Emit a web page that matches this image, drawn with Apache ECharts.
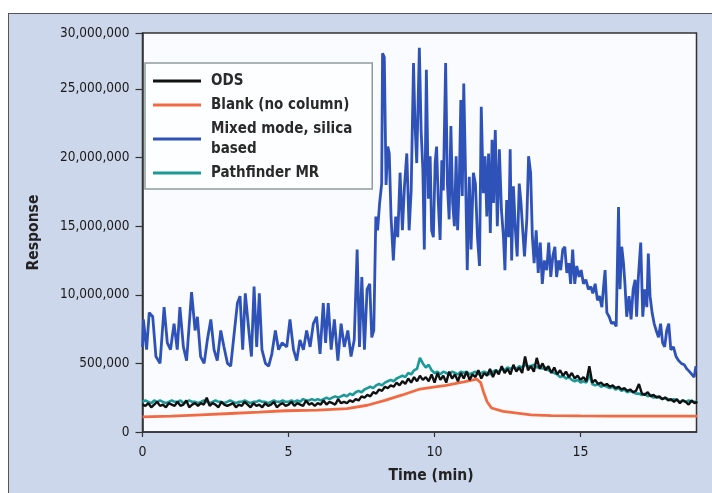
<!DOCTYPE html>
<html><head><meta charset="utf-8">
<script src="https://cdn.jsdelivr.net/npm/echarts@6/dist/echarts.min.js"></script>
<style>
html,body{margin:0;padding:0;background:#fff;width:712px;height:493px;overflow:hidden;}
#frame{position:absolute;left:8px;top:13px;width:720px;height:500px;background:#cdd7eb;border-left:1.5px solid #555;border-top:1.5px solid #555;}
#chart{position:absolute;left:0;top:0;width:712px;height:493px;}
</style></head><body>
<div id="frame"></div><div id="chart"></div>
<script>
// ---- data (values in millions of counts, time in min) ----
const xTickValues = [0, 5, 10, 15];
const yTickValues = [0, 5, 10, 15, 20, 25, 29.08];
const yTickLabels = ['0', '500,000', '10,000,000', '15,000,000', '20,000,000', '25,000,000', '30,000,000'];
const seriesNames = ['ODS', 'Blank (no column)', 'Mixed mode, silica\nbased', 'Pathfinder MR'];

// ODS, sampled every 0.1 min from 0 to 19.0
const odsValues = [
 2.0,1.9,2.1,1.8,2.0,2.2,1.9,2.0,1.8,2.1,
 2.0,1.9,2.2,1.9,2.0,2.3,1.8,2.0,2.1,1.9,
 2.1,2.0,2.5,1.9,2.1,2.0,1.8,2.2,2.0,1.9,
 2.0,2.1,1.8,2.0,1.9,2.2,2.0,1.8,2.1,1.9,
 2.0,1.8,2.1,1.9,2.0,2.2,1.8,2.0,2.1,1.9,
 2.0,2.2,1.9,2.1,2.0,1.9,2.3,2.0,2.1,1.9,
 2.1,2.0,2.3,2.0,2.2,2.1,2.0,2.4,2.1,2.2,
 2.1,2.3,2.2,2.4,2.3,2.6,2.5,2.7,2.6,2.9,
 2.8,3.1,3.0,3.3,3.2,3.4,3.3,3.6,3.4,3.7,
 3.5,3.9,3.6,4.0,3.7,4.1,3.8,4.0,3.7,4.2,
 3.6,4.3,3.8,4.1,3.6,4.4,3.9,4.2,3.7,4.3,
 3.9,4.4,3.8,4.2,4.0,4.5,3.9,4.3,4.1,4.6,
 4.0,4.5,4.2,4.8,4.3,4.6,4.2,4.9,4.4,4.7,
 4.3,5.5,4.5,4.8,4.4,5.4,4.6,5.0,4.5,4.8,
 4.3,4.7,4.2,4.5,4.1,4.4,4.0,4.3,3.9,4.1,
 3.8,4.0,3.7,4.8,3.6,3.8,3.5,3.6,3.4,3.5,
 3.3,3.4,3.2,3.3,3.1,3.2,3.0,3.1,2.9,3.0,
 3.5,2.8,2.7,2.9,2.6,2.7,2.5,2.6,2.4,2.5,
 2.3,2.4,2.2,2.4,2.1,2.3,2.2,2.0,2.3,2.1,
 2.2
];

// Pathfinder MR, sampled every 0.1 min from 0 to 19.0
const pathfinderValues = [
 2.2,2.3,2.2,2.1,2.3,2.2,2.3,2.2,2.1,2.2,
 2.3,2.2,2.2,2.3,2.1,2.2,2.3,2.2,2.2,2.1,
 2.2,2.3,2.2,2.1,2.2,2.3,2.2,2.2,2.1,2.2,
 2.3,2.2,2.1,2.2,2.2,2.3,2.2,2.1,2.2,2.2,
 2.3,2.2,2.2,2.1,2.2,2.3,2.2,2.2,2.3,2.2,
 2.2,2.3,2.2,2.3,2.2,2.4,2.3,2.3,2.4,2.3,
 2.4,2.3,2.4,2.5,2.4,2.5,2.6,2.5,2.6,2.7,
 2.6,2.8,2.7,2.9,3.0,2.9,3.1,3.2,3.3,3.2,
 3.4,3.5,3.4,3.6,3.7,3.8,3.7,3.9,4.0,4.1,
 4.0,4.3,4.2,4.5,4.6,5.4,5.0,4.7,4.9,4.5,
 4.3,4.4,4.2,4.4,4.3,4.2,4.4,4.3,4.2,4.4,
 4.3,4.4,4.2,4.3,4.4,4.2,4.3,4.4,4.3,4.2,
 4.4,4.5,4.4,4.6,4.5,4.7,4.6,4.7,4.6,4.8,
 4.7,4.9,4.8,4.8,4.9,4.7,4.8,4.6,4.7,4.5,
 4.4,4.3,4.2,4.0,4.1,3.9,4.0,3.8,3.7,3.8,
 3.6,3.7,3.6,4.2,3.5,3.4,3.5,3.3,3.4,3.3,
 3.2,3.3,3.1,3.2,3.0,3.1,2.9,3.0,2.9,2.8,
 2.8,2.7,2.8,2.6,2.7,2.5,2.6,2.5,2.4,2.5,
 2.4,2.3,2.4,2.3,2.2,2.3,2.2,2.3,2.2,2.2,
 2.2
];

// Blank (no column): [time, value]
const blankPoints = [
 [0,1.1],[1,1.15],[2,1.25],[3,1.35],[4,1.45],[4.9,1.55],[6,1.6],[7,1.7],[7.7,1.95],
 [8.3,2.3],[8.9,2.7],[9.45,3.1],[9.9,3.25],[10.4,3.4],[11,3.65],[11.45,3.85],[11.58,3.6],
 [11.68,2.9],[11.8,2.2],[11.95,1.75],[12.35,1.5],[13.3,1.25],[14,1.2],[15,1.17],[16,1.16],
 [17,1.15],[18,1.15],[19,1.15]
];

// Mixed mode, silica based: [time, value]
const mixedPoints = [
 [0,6.2],[0.03,8.2],[0.14,6.0],[0.23,8.7],[0.35,8.4],[0.46,5.5],[0.6,5.0],[0.74,9.1],[0.85,6.5],
 [0.96,6.0],[1.08,7.9],[1.19,6.0],[1.28,9.1],[1.4,6.2],[1.51,5.2],[1.68,10.2],[1.8,7.4],[1.88,8.4],
 [1.99,5.5],[2.11,5.0],[2.22,6.7],[2.34,8.2],[2.45,6.0],[2.56,5.2],[2.68,7.4],[2.79,6.2],[2.91,5.0],
 [3.02,4.8],[3.15,7.4],[3.25,9.4],[3.34,9.9],[3.43,6.0],[3.52,10.1],[3.64,7.4],[3.73,5.5],[3.82,10.6],
 [3.91,6.2],[4.0,10.1],[4.09,6.0],[4.21,5.0],[4.32,4.8],[4.43,5.7],[4.55,7.4],[4.66,6.0],[4.78,6.5],
 [4.94,6.2],[5.05,8.2],[5.17,6.0],[5.28,5.2],[5.39,6.7],[5.51,6.0],[5.62,7.4],[5.74,6.2],[5.85,7.9],
 [5.96,8.4],[6.08,5.7],[6.19,9.4],[6.27,6.5],[6.36,9.4],[6.46,6.0],[6.57,8.2],[6.69,5.2],[6.8,7.9],
 [6.91,6.2],[7.03,7.4],[7.14,5.5],[7.25,6.7],[7.35,13.3],[7.43,6.2],[7.51,11.3],[7.6,6.0],[7.69,10.4],
 [7.78,10.8],[7.85,6.9],[7.92,7.4],[7.99,15.7],[8.05,14.7],[8.12,16.7],[8.19,18.1],[8.22,27.6],[8.28,27.3],
 [8.34,18.0],[8.4,20.8],[8.45,20.3],[8.51,15.7],[8.59,12.5],[8.67,15.7],[8.74,14.2],[8.82,18.9],[8.9,14.7],
 [8.97,17.9],[9.05,20.3],[9.13,14.7],[9.2,17.6],[9.28,26.9],[9.33,22.5],[9.39,19.6],[9.48,28.0],[9.54,22.0],
 [9.6,19.1],[9.65,13.3],[9.72,26.4],[9.79,17.0],[9.85,20.1],[9.9,14.7],[9.96,14.2],[10.02,19.6],[10.07,20.8],
 [10.13,16.7],[10.19,14.0],[10.25,19.8],[10.3,17.6],[10.38,26.9],[10.44,18.1],[10.5,15.5],[10.56,22.3],
 [10.62,16.7],[10.68,15.0],[10.74,20.1],[10.79,14.7],[10.85,18.4],[10.9,24.2],[10.95,17.2],[11.0,25.4],
 [11.05,20.1],[11.12,11.8],[11.19,18.6],[11.25,13.3],[11.33,18.9],[11.4,18.1],[11.47,14.2],[11.54,12.1],
 [11.6,23.7],[11.67,17.4],[11.73,20.1],[11.79,15.7],[11.85,20.3],[11.91,14.5],[11.97,21.3],[12.02,16.7],
 [12.08,22.0],[12.15,15.0],[12.22,20.6],[12.29,16.2],[12.36,14.2],[12.41,11.8],[12.47,16.9],[12.54,14.2],
 [12.59,20.6],[12.64,12.5],[12.7,17.9],[12.77,14.7],[12.83,12.8],[12.9,18.1],[12.96,16.7],[13.02,14.7],
 [13.08,12.8],[13.16,15.5],[13.22,20.1],[13.29,18.9],[13.35,14.2],[13.41,12.3],[13.48,14.7],[13.55,11.6],
 [13.62,13.8],[13.69,10.8],[13.76,12.5],[13.84,11.8],[13.91,13.8],[13.98,11.3],[14.05,12.8],[14.12,13.5],
 [14.18,11.3],[14.25,12.5],[14.32,11.8],[14.39,13.3],[14.46,13.5],[14.53,11.6],[14.6,12.3],[14.66,10.8],
 [14.73,13.3],[14.8,10.8],[14.87,12.1],[14.95,11.3],[15.02,11.8],[15.1,10.8],[15.18,11.1],[15.27,10.4],
 [15.35,10.6],[15.42,10.1],[15.5,10.8],[15.58,9.6],[15.65,9.9],[15.73,9.1],[15.78,10.4],[15.84,11.8],
 [15.9,8.7],[15.98,8.4],[16.06,7.9],[16.14,8.0],[16.22,7.7],[16.3,16.4],[16.35,10.4],[16.41,13.5],
 [16.47,12.3],[16.52,10.8],[16.58,8.4],[16.66,9.9],[16.73,8.2],[16.8,10.4],[16.87,11.1],[16.92,8.4],
 [16.98,11.3],[17.06,13.8],[17.13,8.4],[17.2,10.4],[17.27,9.1],[17.32,13.0],[17.38,9.9],[17.45,8.7],
 [17.52,7.9],[17.59,7.4],[17.67,6.9],[17.74,7.9],[17.81,6.5],[17.88,6.2],[17.95,7.4],[18.02,7.9],
 [18.09,6.0],[18.18,6.2],[18.27,5.5],[18.36,5.2],[18.45,5.0],[18.55,4.9],[18.64,4.6],[18.73,4.4],
 [18.81,4.2],[18.89,4.0],[18.95,4.8]
];

// ---- chart ----
const FONT = "'DejaVu Sans Condensed','Liberation Sans Narrow',sans-serif";
const STEP = 0.1;
const toPairs = vals => vals.map((v, i) => [Math.round(i * STEP * 10) / 10, v]);

function yLabel(v) {
  let best = 0;
  for (let i = 0; i < yTickValues.length; i++) {
    if (Math.abs(yTickValues[i] - v) < Math.abs(yTickValues[best] - v)) best = i;
  }
  return yTickLabels[best];
}

const axisColor = '#333';
const chart = echarts.init(document.getElementById('chart'), null, {renderer: 'canvas'});
chart.setOption({
  animation: false,
  backgroundColor: 'transparent',
  grid: {left: 142.5, top: 33, right: 15.5, bottom: 61, show: true,
         backgroundColor: '#f9fbfe', borderColor: '#333', borderWidth: 1.5},
  legend: {
    data: seriesNames, orient: 'vertical', left: 145, top: 63,
    padding: [8, 20, 6, 8], itemGap: 4, itemWidth: 48, itemHeight: 3, icon: 'rect',
    backgroundColor: '#fdfeff', borderColor: '#8e9d9a', borderWidth: 1.5,
    selectedMode: false,
    textStyle: {fontFamily: FONT, fontWeight: 'bold', fontSize: 15, lineHeight: 20,
                color: '#2a2a2a', padding: [0, 0, 0, 5]}
  },
  xAxis: {
    type: 'value', min: 0, max: 18.97,
    axisLine: {lineStyle: {color: axisColor, width: 1.5}},
    axisTick: {show: true, length: 5, customValues: xTickValues, lineStyle: {color: axisColor, width: 1.2}},
    axisLabel: {customValues: xTickValues, formatter: v => String(v), fontFamily: FONT,
                fontSize: 14, color: '#1a1a1a', margin: 13},
    splitLine: {show: false},
    name: 'Time (min)', nameLocation: 'middle', nameGap: 36,
    nameTextStyle: {fontFamily: FONT, fontWeight: 'bold', fontSize: 15.5, color: '#222', padding: [0, 0, 0, 23]}
  },
  yAxis: {
    type: 'value', min: 0, max: 29.08,
    axisLine: {show: true, lineStyle: {color: axisColor, width: 1.5}},
    axisTick: {show: true, length: 7, customValues: yTickValues, lineStyle: {color: axisColor, width: 1.2}},
    axisLabel: {customValues: yTickValues, formatter: yLabel, fontFamily: FONT,
                fontSize: 13.5, color: '#1a1a1a', margin: 13},
    splitLine: {show: false},
    name: 'Response', nameLocation: 'middle', nameGap: 101, nameRotate: 90, nameMoveOverlap: false,
    nameTextStyle: {fontFamily: FONT, fontWeight: 'bold', fontSize: 15.5, color: '#222'}
  },
  series: [
    {name: seriesNames[1], type: 'line', symbol: 'none', data: blankPoints, z: 2,
     lineStyle: {color: '#f26a42', width: 2.8}, itemStyle: {color: '#f26a42'}},
    {name: seriesNames[3], type: 'line', symbol: 'none', data: toPairs(pathfinderValues), z: 3,
     lineStyle: {color: '#1c9a9a', width: 2.6}, itemStyle: {color: '#1c9a9a'}},
    {name: seriesNames[0], type: 'line', symbol: 'none', data: toPairs(odsValues), z: 4,
     lineStyle: {color: '#111', width: 2.4}, itemStyle: {color: '#111'}},
    {name: seriesNames[2], type: 'line', symbol: 'none', data: mixedPoints, z: 5,
     lineStyle: {color: '#2f52b8', width: 2.8}, itemStyle: {color: '#2f52b8'}}
  ]
});
</script></body></html>
